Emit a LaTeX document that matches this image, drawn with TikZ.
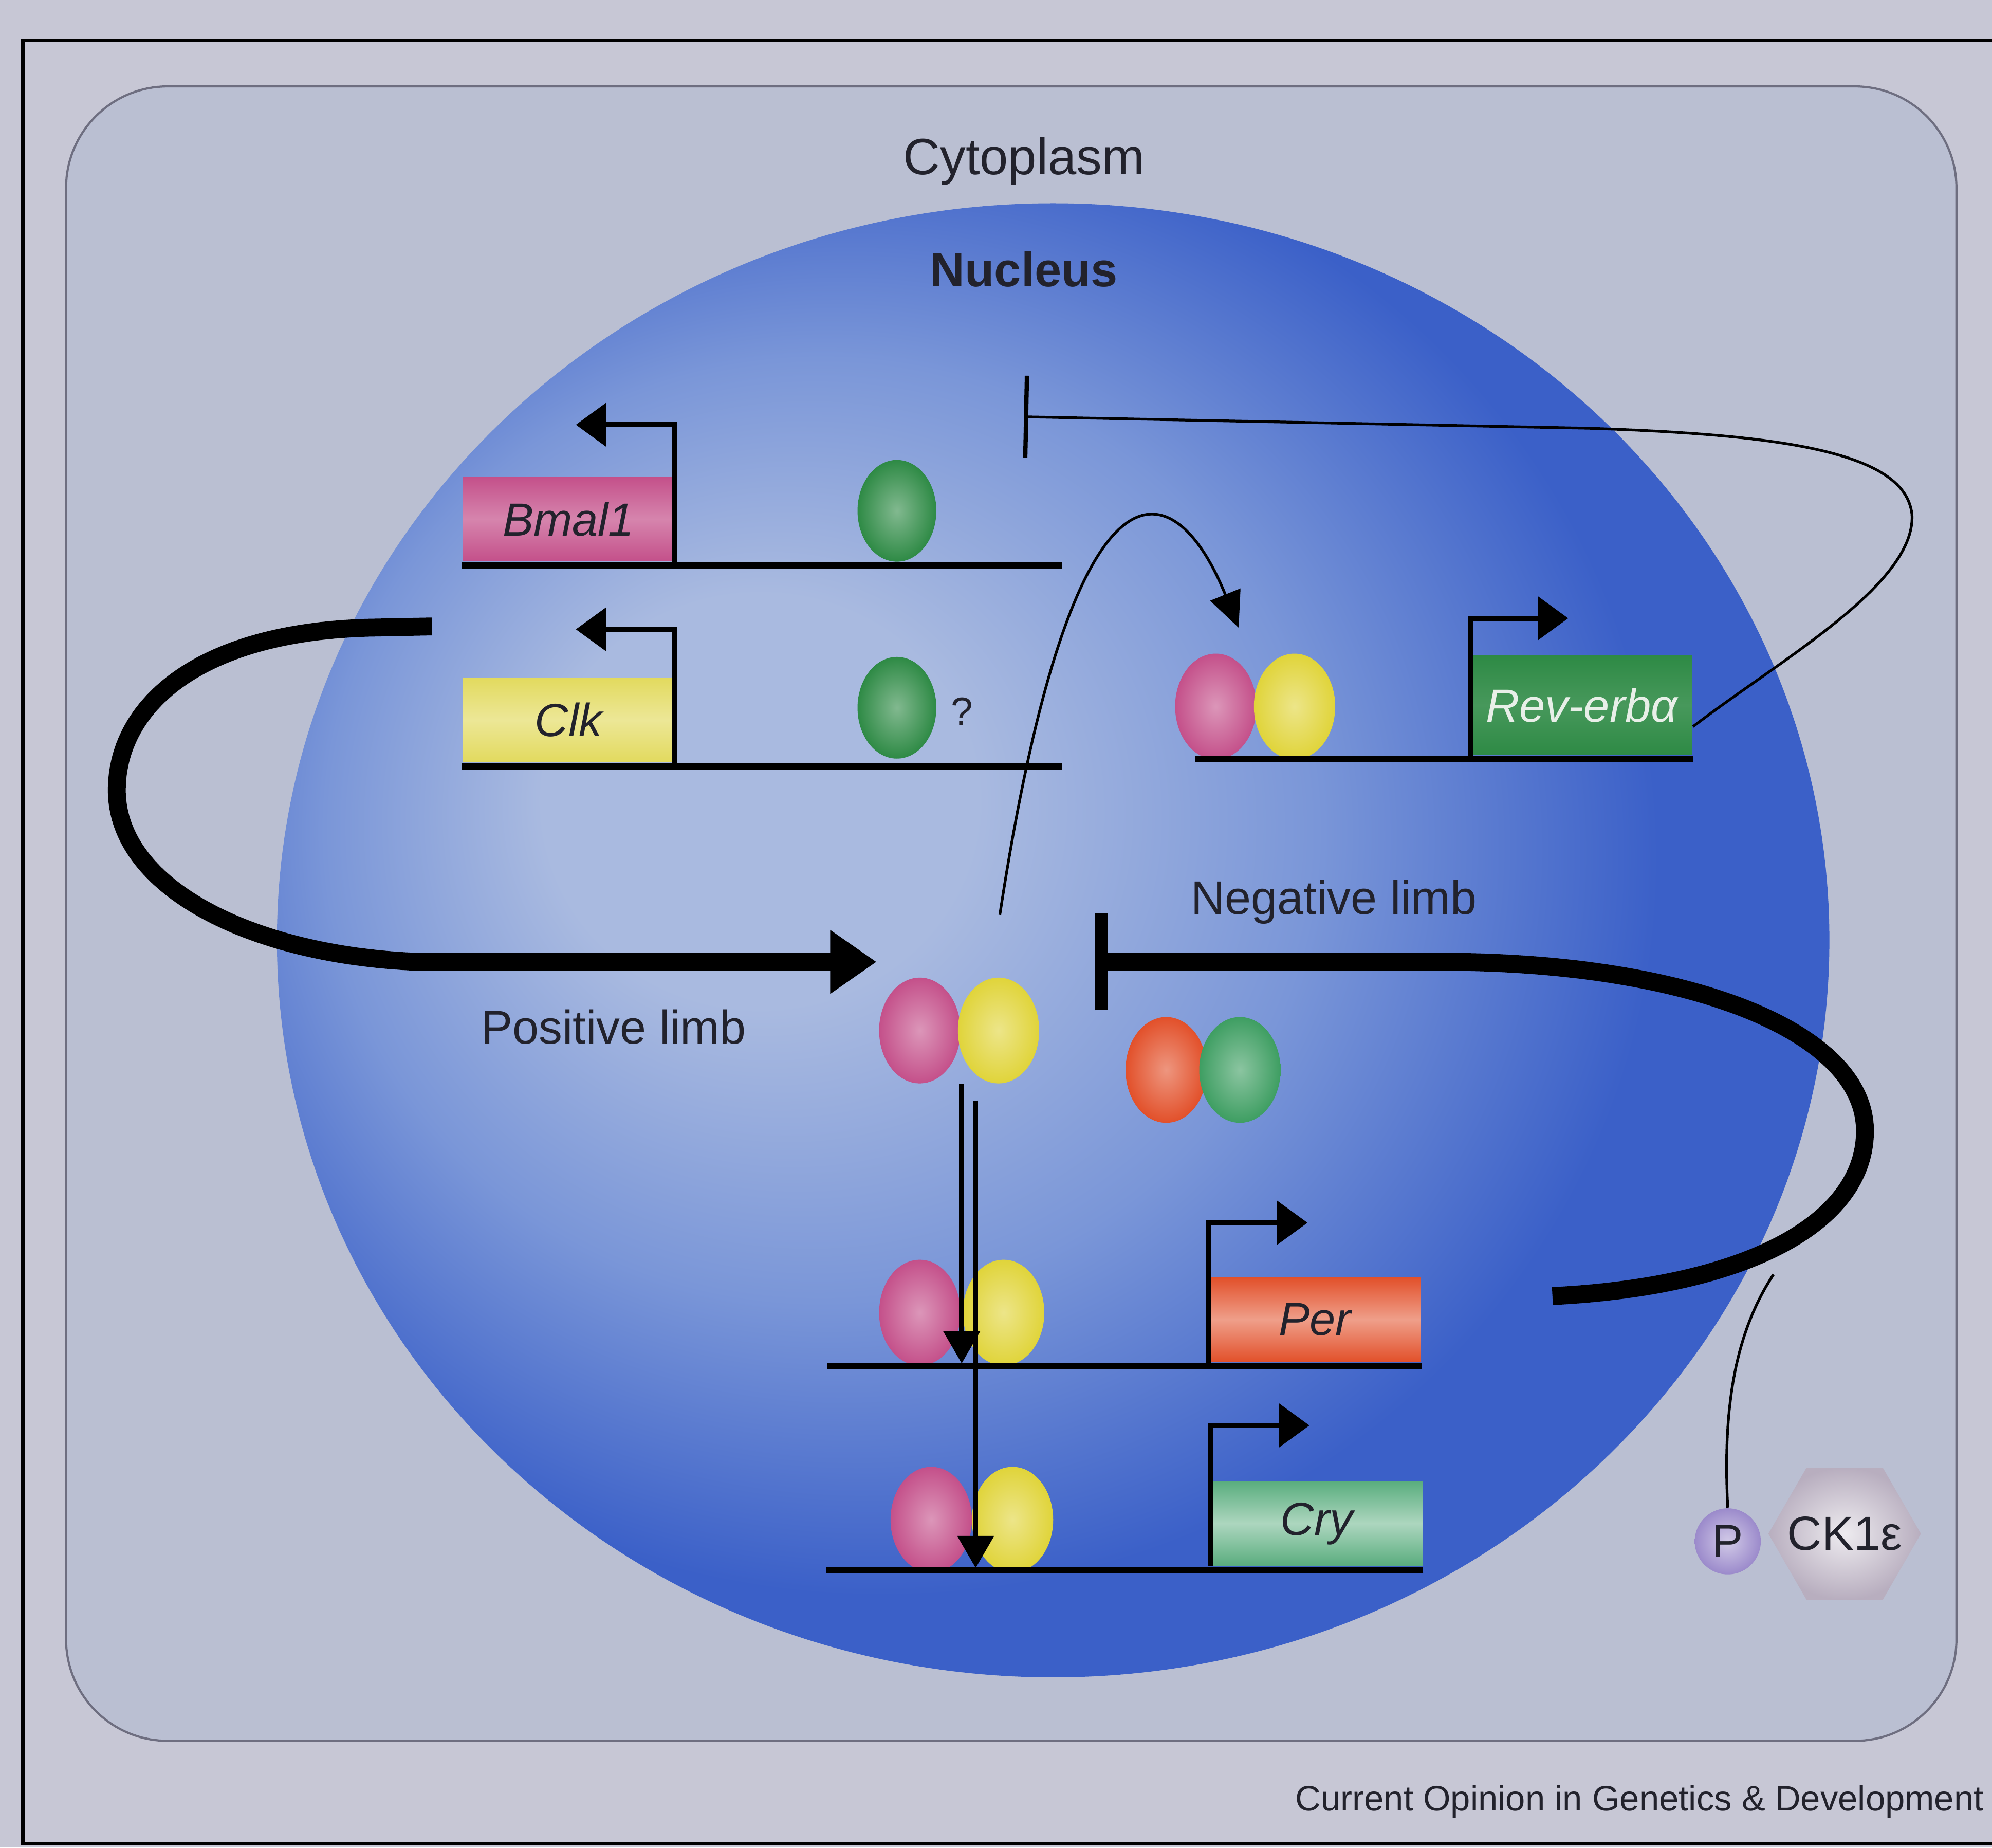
\documentclass[tikz,border=0pt]{standalone}
\usepackage{fontspec}
\setmainfont{Liberation Sans}
\usetikzlibrary{arrows.meta, shapes.geometric, positioning}

\definecolor{pagebg}{HTML}{C7C7D5}
\definecolor{cellbg}{HTML}{BABFD2}
\definecolor{cellrim}{HTML}{6E6E80}
\definecolor{nucpale}{HTML}{A9BAE0}
\definecolor{nucmid}{HTML}{7A96D8}
\definecolor{nucblue}{HTML}{3B60C8}
\definecolor{inktext}{HTML}{22222C}
\definecolor{bmalpink}{HTML}{C4508A}
\definecolor{clkyellow}{HTML}{E0D43A}
\definecolor{clkbox}{HTML}{E2DA5E}
\definecolor{revgreen}{HTML}{2E8A45}
\definecolor{revtext}{HTML}{E8EFE8}
\definecolor{perred}{HTML}{E2502A}
\definecolor{crygreen}{HTML}{3E9E62}
\definecolor{crybox}{HTML}{5AAD7E}
\definecolor{ckgray}{HTML}{B8AEBF}
\definecolor{phospho}{HTML}{9B8ACB}

\pgfdeclareradialshading{nucshade}{\pgfpoint{-11bp}{5.5bp}}{color(0bp)=(nucpale); color(7bp)=(nucpale); color(16bp)=(nucmid); color(25bp)=(nucblue); color(50bp)=(nucblue)}

\newcommand{\cytofont}{\fontsize{14.3}{17}\selectfont}
\newcommand{\nucfont}{\fontsize{13.5}{16}\selectfont\bfseries}
\newcommand{\limbfont}{\fontsize{13.2}{16}\selectfont}
\newcommand{\genefont}{\fontsize{13}{15}\selectfont\itshape}
\newcommand{\creditfont}{\fontsize{9.9}{12}\selectfont}

\begin{document}
\begin{tikzpicture}[x=0.0125cm, y=-0.0125cm,
  >={Triangle[length=8.5pt, width=12pt]},
  dna/.style={line width=1.7pt},
  promoter/.style={line width=1.4pt, ->},
  genebox/.style={rectangle, minimum width=2.08cm, minimum height=0.83cm, inner sep=0pt,
    top color=#1, bottom color=#1, middle color=#1!65!white, font=\genefont, text=inktext},
  protein/.style={ellipse, minimum width=0.8cm, minimum height=1.04cm, inner sep=0pt,
    inner color=#1!60!white, outer color=#1},
  limbtext/.style={font=\limbfont, text=inktext},
  thinlink/.style={line width=0.75pt},
  limb/.style={line width=5pt}]

  % Page and frame
  \fill[pagebg] (0,0) rectangle (1568,1454);
  \useasboundingbox (0,0) rectangle (1568,1454);
  \draw[line width=0.9pt] (18,32) rectangle (1600,1451);

  % Cell and nucleus
  \draw[cellrim, fill=cellbg, line width=0.6pt, rounded corners=1cm] (52,68) rectangle (1540,1370);
  \shade[shading=nucshade] (829,740) ellipse [x radius=611, y radius=580];

  \node[font=\cytofont, text=inktext] (cyto) at (806,127) {Cytoplasm};
  \node[font=\nucfont, text=inktext] (nuc) at (806,212) {Nucleus};

  % Genes
  \node[genebox=bmalpink, middle color=bmalpink!70!white] (bmal) at (447.5,408.5) {Bmal1};
  \node[genebox=clkbox] (clk) at (447.5,566.5) {Clk};
  \node[genebox=revgreen, middle color=revgreen!88!white, minimum width=2.175cm, minimum height=0.975cm, text=revtext] (reverb) at (1245,555) {Rev-erbα};
  \node[genebox=perred, middle color=perred!55!white] (per) at (1035,1038.5) {Per};
  \node[genebox=crybox, middle color=crybox!50!white] (cry) at (1036.5,1199) {Cry};

  % Proteins on the promoters
  \node[protein=revgreen, minimum width=0.775cm, minimum height=1cm] (rbbmal) at (706,402) {};
  \node[protein=revgreen, minimum width=0.775cm, minimum height=1cm] (rbclk) at (706,557) {};
  \node[font=\fontsize{11}{13}\selectfont, text=inktext] (unsure) at (757,560) {?};
  \node[protein=bmalpink] (bmrev) at (957,556) {};
  \node[protein=clkyellow] (ckrev) at (1019,556) {};
  \node[protein=bmalpink] (bmper) at (724,1033) {};
  \node[protein=clkyellow] (ckper) at (790,1033) {};
  \node[protein=bmalpink] (bmcry) at (733,1196) {};
  \node[protein=clkyellow] (ckcry) at (797,1196) {};

  % Free complexes
  \node[protein=bmalpink] (bmfree) at (724,811) {};
  \node[protein=clkyellow] (ckfree) at (786,811) {};
  \node[protein=perred] (perfree) at (918,842) {};
  \node[protein=crygreen] (cryfree) at (976,842) {};

  % DNA
  \draw[dna] ([yshift=-1pt]bmal.south west) -- ++(472,0);
  \draw[dna] ([yshift=-1pt]clk.south west) -- ++(472,0);
  \draw[dna] ([yshift=-1pt]reverb.south east) -- ++(-392,0);
  \draw[dna] ([yshift=-1pt]per.south east) -- ++(-468,0);
  \draw[dna] ([yshift=-1pt]cry.south east) -- ++(-470,0);

  % Transcription start sites
  \draw[promoter] (bmal.south east) -- ++(0,-108) -- ++(-78,0);
  \draw[promoter] (clk.south east) -- ++(0,-105) -- ++(-78,0);
  \draw[promoter] (reverb.south west) -- ++(0,-108) -- ++(77,0);
  \draw[promoter] (per.south west) -- ++(0,-110) -- ++(78,0);
  \draw[promoter] (cry.south west) -- ++(0,-111) -- ++(78,0);

  % Clock-Bmal1 to Per and Cry
  \coordinate (perdown) at (757,853);
  \coordinate (perbind) at (757,1073);
  \coordinate (crydown) at (768,866);
  \coordinate (crybind) at (768,1234);
  \draw[line width=1.4pt, -{Triangle[length=9pt, width=10pt]}] (perdown) -- (perbind);
  \draw[line width=1.4pt, -{Triangle[length=9pt, width=10pt]}] (crydown) -- (crybind);

  % Clock-Bmal1 to Rev-erba
  \coordinate (actstart) at (787,720);
  \coordinate (actend) at (975,494);
  \draw[thinlink, -{Triangle[length=10pt, width=9pt]}] (actstart) .. controls (845,340) and (925,370) .. (actend);

  % Rev-erba represses Bmal1
  \coordinate (repbar) at (806,328);
  \draw[thinlink, -{Bar[width=23pt, line width=1.2pt]}] ([yshift=-6pt]reverb.east) .. controls (1400,520) and (1508,460) .. (1505,405) .. controls (1500,355) and (1400,342) .. (1250,337) -- (repbar);

  % Positive limb
  \coordinate (postail) at (340,493);
  \coordinate (poshead) at (690,757);
  \draw[limb, -{Triangle[length=13pt, width=17pt]}] (postail) -- (290,494) .. controls (150,498) and (90,560) .. (92,625) .. controls (95,700) and (200,752) .. (330,757) -- (poshead);
  \node[limbtext] (poslabel) at (483,808) {Positive limb};

  % Negative limb
  \coordinate (negtail) at (1222,1020);
  \coordinate (negbar) at (862,757);
  \draw[limb, -{Bar[width=27pt, line width=3.6pt]}] (negtail) .. controls (1380,1012) and (1468,960) .. (1468,890) .. controls (1468,815) and (1340,760) .. (1150,757) -- (negbar);
  \node[limbtext] (neglabel) at (1050,710) {Negative limb};

  % CK1e and phosphate
  \node[regular polygon, regular polygon sides=6, minimum size=1.5cm, inner sep=0pt,
    inner color=white!75!ckgray, outer color=ckgray] (ckone) at (1452,1207) {};
  \node[font=\fontsize{13.4}{15}\selectfont, text=inktext] (cklabel) at (ckone.center) {CK1ε};
  \node[circle, minimum size=0.65cm, inner sep=0pt, inner color=phospho!45!white, outer color=phospho,
    font=\fontsize{13}{15}\selectfont, text=inktext] (pbead) at (1360,1213) {P};
  \coordinate (ckjoin) at (1396,1003);
  \draw[thinlink] (pbead.north) .. controls (1356,1110) and (1365,1050) .. (ckjoin);

  \node[font=\creditfont, text=inktext, anchor=east, inner sep=0pt] (credit) at (1562,1418) {Current Opinion in Genetics \& Development};
\end{tikzpicture}
\end{document}
